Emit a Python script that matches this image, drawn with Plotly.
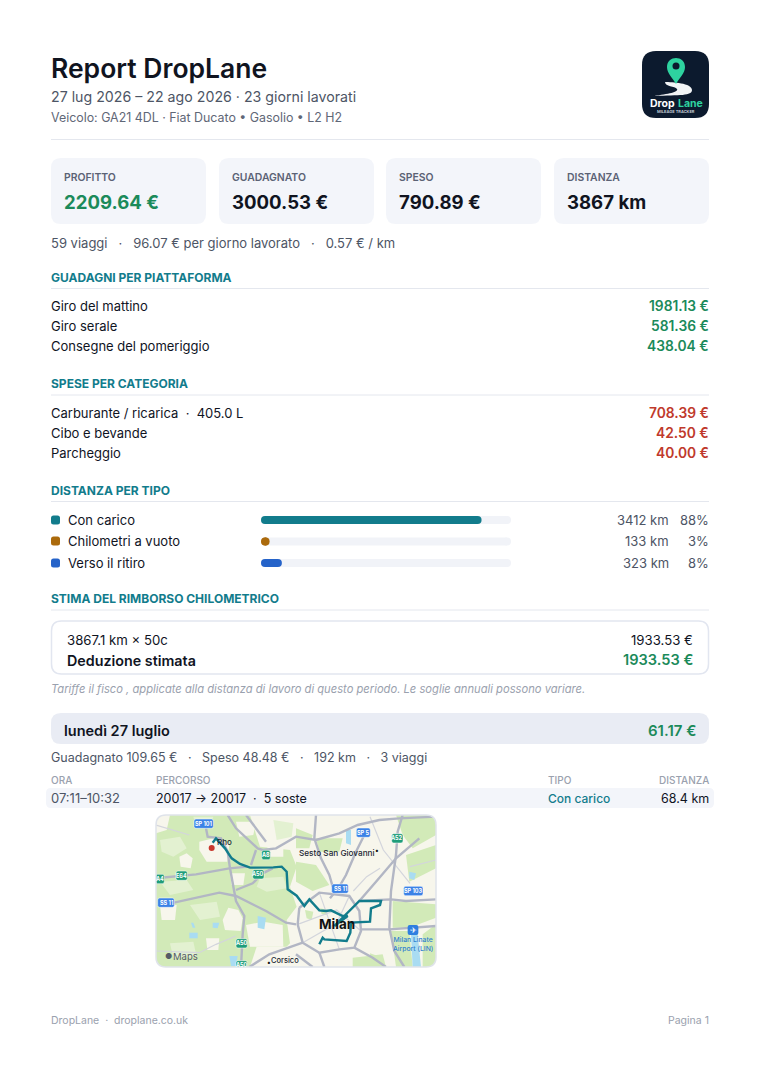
# Report DropLane page drawn with plotly
import plotly.graph_objects as go

# Report values
kpi_labels = ["PROFITTO", "GUADAGNATO", "SPESO", "DISTANZA"]
kpi_values = ["2209.64 €", "3000.53 €", "790.89 €", "3867 km"]

platforms = ["Giro del mattino", "Giro serale", "Consegne del pomeriggio"]
platform_values = ["1981.13 €", "581.36 €", "438.04 €"]

expenses = ["Carburante / ricarica  ·  405.0 L", "Cibo e bevande", "Parcheggio"]
expense_values = ["708.39 €", "42.50 €", "40.00 €"]

distance_types = ["Con carico", "Chilometri a vuoto", "Verso il ritiro"]
distance_km = [3412, 133, 323]
distance_pct = ["88%", "3%", "8%"]
distance_total = 3867
distance_colors = ["#127c8c", "#ab6a0c", "#2563c9"]

# Map geometry
route_x = [188, 198, 225, 245, 270, 300, 370, 395, 410, 413, 440, 463, 478, 508, 528, 543, 578, 593, 553,
           628, 693, 690, 663, 660, 603, 601, 590, 523, 518, 508]
route_y = [98, 85, 115, 145, 162, 173, 172, 170, 185, 238, 257, 288, 268, 301, 303, 301, 318, 318, 348,
           273, 273, 285, 295, 335, 338, 368, 393, 388, 383, 403]

major_roads = [
    ([168, 173, 213, 233, 240, 253, 258, 283, 278, 273], [55, 80, 85, 125, 175, 240, 273, 318, 373, 471]),
    ([233, 258, 323, 338, 378, 438, 498, 568, 623, 688, 748, 858], [15, 55, 115, 120, 115, 80, 90, 70, 45, 30, 25, 20]),
    ([288, 348], [15, 95]),
    ([318, 303], [120, 165]),
    ([18, 78, 138, 238, 293], [205, 200, 193, 175, 170]),
    ([368, 338, 308, 258], [175, 190, 220, 240]),
    ([48, 118, 208, 258, 348, 408, 438], [283, 268, 248, 258, 303, 338, 343]),
    ([643, 618, 588, 568, 540], [75, 125, 195, 230, 265]),
    ([498, 493, 513, 538, 548], [15, 85, 145, 195, 230]),
    ([758, 743, 738, 723, 718, 733, 763], [15, 65, 135, 243, 353, 423, 471]),
    ([808, 738, 678, 653, 628], [85, 145, 215, 243, 273]),
    ([628, 723, 768, 858], [273, 268, 273, 268]),
    ([633, 718, 858], [358, 358, 348]),
    ([448, 443, 458, 508, 568, 613, 633, 628, 598, 508, 448], [293, 343, 398, 428, 418, 413, 363, 303, 258, 248, 293]),
    ([508, 523], [428, 471]),
    ([613, 668, 708], [413, 443, 471]),
    ([458, 358, 298], [398, 433, 471]),
    ([438, 488], [433, 471]),
]
minor_roads = [
    ([18, 148, 198, 258], [423, 428, 403, 378]),
    ([18, 118], [45, 75]),
    ([443, 560, 633], [343, 300, 363]),
    ([508, 540, 568], [248, 340, 418]),
    ([598, 560, 458], [258, 340, 398]),
    ([660, 700, 780], [20, 120, 220]),
    ([610, 650, 690], [243, 200, 175]),
    ([780, 858], [170, 150]),
]
greens = [
    ([18, 300, 330, 420, 440, 420, 440, 410, 420, 350, 18],
     [15, 15, 110, 120, 170, 230, 290, 330, 400, 471, 471]),
    ([498, 578, 568, 508], [85, 85, 125, 125]),
    ([438, 488, 478, 438], [55, 75, 115, 115]),
    ([738, 858, 858, 788, 758], [15, 15, 75, 115, 75]),
    ([768, 858, 858, 778], [135, 105, 175, 215]),
    ([438, 498, 538, 488, 438], [155, 165, 225, 243, 215]),
    ([728, 858, 858, 778, 728], [273, 283, 323, 353, 353]),
    ([723, 778, 788, 738], [363, 363, 471, 471]),
    ([608, 698, 708, 608], [443, 433, 471, 471]),
    ([818, 858, 858, 818], [373, 343, 471, 471]),
    ([465, 490, 485, 470], [300, 305, 330, 325]),
    ([510, 535, 530, 515], [295, 300, 315, 312]),
    ([660, 690, 690, 662], [430, 440, 455, 450]),
]
pale_greens = [
    ([30, 90, 110, 70, 35], [90, 80, 115, 140, 125]),
    ([130, 190, 180, 140], [20, 20, 50, 55]),
    ([30, 110, 130, 60], [215, 210, 240, 255]),
    ([120, 200, 210, 150], [285, 275, 320, 330]),
    ([60, 130, 140, 70], [400, 395, 440, 445]),
    ([330, 400, 410, 350, 320], [205, 200, 235, 245, 230]),
    ([370, 430, 425, 380], [30, 40, 80, 90]),
]
urban_patches = [
    ([148, 190, 238, 232, 170, 148], [95, 85, 100, 155, 155, 120]),
    ([18, 60, 50, 18], [15, 15, 60, 70]),
    ([88, 110, 128, 122, 92], [140, 130, 145, 175, 170]),
    ([258, 318, 310, 268], [35, 35, 75, 80]),
    ([350, 400, 400, 358], [100, 95, 140, 140]),
    ([235, 265, 278, 272, 225, 218], [293, 300, 325, 363, 360, 330]),
    ([288, 340, 398, 400, 300], [345, 335, 345, 410, 410]),
    ([168, 208, 205, 172], [385, 385, 420, 420]),
    ([320, 440, 440, 300], [410, 410, 471, 471]),
    ([30, 80, 75, 35], [285, 285, 330, 330]),
    ([240, 285, 280, 245], [190, 190, 225, 225]),
]
waters = [
    ([118, 143, 143, 118], [368, 368, 385, 385]),
    ([188, 208, 203, 188], [338, 338, 355, 353]),
    ([123, 130, 136, 128], [338, 338, 353, 353]),
    ([323, 348, 343, 323], [318, 323, 358, 353]),
    ([238, 263, 258, 243], [438, 438, 468, 468]),
    ([783, 803, 813, 788], [373, 373, 471, 471]),
    ([588, 603, 603, 588], [60, 60, 105, 100]),
    ([778, 798, 793, 778], [185, 190, 210, 205]),
]
shields = [
    ("SP 101", 161, 41, "#3b82e6"), ("SP 5", 640, 68, "#3b82e6"), ("A52", 742, 85, "#1f9d7a"),
    ("A8", 348, 135, "#1f9d7a"), ("A50", 325, 193, "#1f9d7a"), ("A4", 30, 207, "#1f9d7a"),
    ("E64", 95, 197, "#1f9d7a"), ("SS 11", 48, 278, "#3b82e6"), ("SS 11", 570, 236, "#3b82e6"),
    ("SP 103", 790, 243, "#3b82e6"), ("A50", 275, 400, "#1f9d7a"), ("A50", 275, 466, "#1f9d7a"),
]

FONT = "Inter, Liberation Sans, sans-serif"
INK = "#10141f"
GREY = "#4d5565"
PALE = "#9aa1ae"
TEAL = "#127c8c"
GREEN = "#1b8a5a"
RED = "#c0392b"
RULE = "#e4e7ee"
CARD = "#f3f5fa"

# The page keeps an 8 px body margin, so the figure is 16 px smaller and the axes stay in page pixels
PAGE_W, PAGE_H, BODY = 760, 1075, 8

annotations = []
shapes = []


def label(x, y, text, size, color=INK, weight=400, anchor="left", style="normal"):
    annotations.append(dict(x=x, y=y, xref="x", yref="y", text=text, showarrow=False,
                            xanchor=anchor, yanchor="middle", borderpad=0, borderwidth=0,
                            font=dict(family=FONT, size=size, color=color, weight=weight, style=style)))


def round_rect(x0, y0, x1, y1, r):
    return (f"M {x0+r},{y0} L {x1-r},{y0} Q {x1},{y0} {x1},{y0+r} L {x1},{y1-r} Q {x1},{y1} {x1-r},{y1} "
            f"L {x0+r},{y1} Q {x0},{y1} {x0},{y1-r} L {x0},{y0+r} Q {x0},{y0} {x0+r},{y0} Z")


def box(x0, y0, x1, y1, r, fill, line=None, layer="below"):
    shapes.append(dict(type="path", path=round_rect(x0, y0, x1, y1, r), xref="x", yref="y", fillcolor=fill,
                       line=dict(color=line or fill, width=1.5 if line else 0), layer=layer))


def rule(y):
    shapes.append(dict(type="line", x0=51, x1=709, y0=y, y1=y, xref="x", yref="y",
                       line=dict(color=RULE, width=1), layer="below"))


def x_domain(left, right):
    return [(left - BODY) / (PAGE_W - 2 * BODY), (right - BODY) / (PAGE_W - 2 * BODY)]


def y_domain(top, bottom):
    height = PAGE_H - 2 * BODY
    return [1 - (bottom - BODY) / height, 1 - (top - BODY) / height]


# Header
label(51, 68, "Report DropLane", 26.5, INK, 600)
label(51, 97, "27 lug 2026 – 22 ago 2026 · 23 giorni lavorati", 14.2, GREY)
label(51, 117, "Veicolo: GA21 4DL · Fiat Ducato • Gasolio • L2 H2", 12.4, "#5f6777")
rule(139.5)

# App icon
box(642, 51, 709, 118, 14, "#0c1a2e", layer="above")
shapes.append(dict(type="path", xref="x", yref="y", layer="above", fillcolor="#f2f4f6", line=dict(width=0),
                   path="M 654,96 C 668,94 679,92 677,89 C 675,86 665,87 665,82 C 672,82 692,83 692,90 "
                        "C 692,96 680,95 654,96 Z"))
shapes.append(dict(type="path", xref="x", yref="y", layer="above", fillcolor="#2ed3a0", line=dict(width=0),
                   path="M 676,84 C 672,77 667,73 667,67 C 667,55 685,55 685,67 C 685,73 680,77 676,84 Z"))
shapes.append(dict(type="circle", xref="x", yref="y", layer="above", x0=672.5, x1=679.5, y0=62.5, y1=69.5,
                   fillcolor="#0c1a2e", line=dict(width=0)))
label(675, 103, "Drop", 10.5, "#ffffff", 700, "right")
label(678, 103, "Lane", 10.5, "#2ed3a0", 700)
annotations.append(dict(x=675.5, y=111, xref="x", yref="y", text="MILEAGE TRACKER", showarrow=False,
                        font=dict(family=FONT, size=4, color="#cdd5df", weight=600)))

# KPI cards
card_left = [51, 219, 386, 554]
for left, name, value in zip(card_left, kpi_labels, kpi_values):
    box(left, 158, left + 155, 224, 10, CARD)
    label(left + 13, 177, name, 10.4, "#5b6275", 600)
    label(left + 13, 202, value, 18.6, GREEN if name == "PROFITTO" else INK, 700)

label(51, 243, "59 viaggi\u00a0\u00a0\u00a0·\u00a0\u00a0\u00a096.07 € per giorno lavorato"
               "\u00a0\u00a0\u00a0·\u00a0\u00a0\u00a00.57 € / km", 13, GREY)

# Earnings and expenses
label(51, 277.5, "GUADAGNI PER PIATTAFORMA", 12, TEAL, 700)
rule(288.5)
for y, name, value in zip([306, 326, 346], platforms, platform_values):
    label(51, y, name, 13)
    label(709, y, value, 13.8, GREEN, 600, "right")

label(51, 383.5, "SPESE PER CATEGORIA", 12, TEAL, 700)
rule(395)
for y, name, value in zip([413, 433, 453], expenses, expense_values):
    label(51, y, name, 13)
    label(709, y, value, 13.8, RED, 600, "right")

# Distance by type, rows of the bar chart below
label(51, 490.5, "DISTANZA PER TIPO", 12, TEAL, 700)
rule(501.5)
for y, name, km, pct, color in zip([520, 541, 563], distance_types, distance_km, distance_pct, distance_colors):
    box(51, y - 4.5, 60, y + 4.5, 2.5, color)
    label(68, y, name, 13)
    label(669, y, f"{km} km", 13, GREY, 400, "right")
    label(709, y, pct, 13, GREY, 400, "right")

# Mileage estimate
label(51, 598.5, "STIMA DEL RIMBORSO CHILOMETRICO", 12, TEAL, 700)
rule(610)
box(51.5, 621, 708.5, 674, 10, "#ffffff", "#e2e6f0")
label(67, 640, "3867.1 km × 50c", 13.2)
label(693, 640, "1933.53 €", 13.2, INK, 400, "right")
label(67, 660, "Deduzione stimata", 14.3, INK, 600)
label(693, 660, "1933.53 €", 14.6, GREEN, 600, "right")
label(51, 689, "Tariffe il fisco , applicate alla distanza di lavoro di questo periodo. "
               "Le soglie annuali possono variare.", 11.2, PALE, 400, "left", "italic")

# Day block
box(51, 713, 709, 744, 10, "#e9ecf4")
label(64, 730, "lunedì 27 luglio", 14.5, INK, 600)
label(696, 730, "61.17 €", 15, GREEN, 600, "right")
label(51, 757, "Guadagnato 109.65 €\u00a0\u00a0\u00a0·\u00a0\u00a0\u00a0Speso 48.48 €\u00a0\u00a0\u00a0·\u00a0\u00a0\u00a0192 km"
               "\u00a0\u00a0\u00a0·\u00a0\u00a0\u00a03 viaggi", 12.5, GREY)
label(51, 780, "ORA", 10, PALE, 500)
label(156, 780, "PERCORSO", 10, PALE, 500)
label(548, 780, "TIPO", 10, PALE, 500)
label(709, 780, "DISTANZA", 10, PALE, 500, "right")
box(46, 788, 714, 808, 5, CARD)
label(51, 798, "07:11–10:32", 13, GREY)
label(156, 798, "20017 → 20017\u00a0\u00a0·\u00a0\u00a05 soste", 12.5)
label(548, 798, "Con carico", 12, TEAL, 500)
label(709, 798, "68.4 km", 12.5, INK, 400, "right")

# Footer
label(51, 1020, "DropLane\u00a0\u00a0·\u00a0\u00a0droplane.co.uk", 10.5, PALE)
label(709, 1020, "Pagina 1", 10.5, PALE, 400, "right")

fig = go.Figure()

# Distance bars: thick lines with round end markers, 4 px caps kept inside the value
cap = 4 * distance_total / 250
for name, km, color in zip(distance_types, distance_km, distance_colors):
    fig.add_trace(go.Scatter(x=[cap, distance_total - cap], y=[name, name], xaxis="x3", yaxis="y3",
                             mode="lines+markers", line=dict(color="#f1f3f8", width=8),
                             marker=dict(color="#f1f3f8", size=8), hoverinfo="skip"))
    fig.add_trace(go.Scatter(x=[cap, km - cap], y=[name, name], xaxis="x3", yaxis="y3",
                             mode="lines+markers", line=dict(color=color, width=8),
                             marker=dict(color=color, size=8), name=name))


# Map picture: land, water, roads, route
def map_area(patches, color):
    for xs, ys in patches:
        fig.add_trace(go.Scatter(x=xs, y=ys, xaxis="x2", yaxis="y2", mode="lines", fill="toself",
                                 fillcolor=color, line=dict(width=0), hoverinfo="skip"))


def map_lines(lines, color, width):
    for xs, ys in lines:
        fig.add_trace(go.Scatter(x=xs, y=ys, xaxis="x2", yaxis="y2", mode="lines",
                                 line=dict(color=color, width=width), hoverinfo="skip"))


box(156, 815, 436, 967, 10, "#f7f6ec")
map_area(greens, "#d2eab8")
map_area(pale_greens, "#e3f1d1")
map_area(urban_patches, "#f7f6ec")
map_area(waters, "#a9dcf2")
map_lines(minor_roads, "#d3d5dc", 1.2)
map_lines(major_roads, "#b2b6c4", 2.4)
fig.add_trace(go.Scatter(x=[185], y=[114], xaxis="x2", yaxis="y2", mode="markers",
                         marker=dict(color="#c8372d", size=6), hoverinfo="skip"))
fig.add_trace(go.Scatter(x=route_x, y=route_y, xaxis="x2", yaxis="y2", mode="lines",
                         line=dict(color=TEAL, width=2.4), hoverinfo="skip"))


def map_text(x, y, text, size, color="#222733", weight=500, bg=None):
    annotations.append(dict(x=x, y=y, xref="x2", yref="y2", text=text, showarrow=False, bgcolor=bg,
                            borderpad=1, font=dict(family=FONT, size=size, color=color, weight=weight)))


for name, x, y, color in shields:
    half = 5 + 4 * len(name)
    shapes.append(dict(type="path", xref="x2", yref="y2", layer="above", fillcolor=color,
                       line=dict(color="#ffffff", width=0.5),
                       path=round_rect(x - half, y - 14, x + half, y + 14, 6)))
    map_text(x, y, name, 5.5, "#ffffff", 700)
map_text(222, 95, "Rho", 8)
map_text(560, 130, "Sesto San Giovanni", 8.2)
map_text(682, 120, "•", 7, "#111111")
map_text(560, 343, "Milan", 13.5, "#111111", 700)
map_text(405, 450, "Corsico", 7.5)
map_text(357, 458, "•", 7, "#111111")
map_text(788, 401, "Milan Linate<br>Airport (LIN)", 6.8, "#2f7fd0", 500)
shapes.append(dict(type="path", xref="x2", yref="y2", layer="above", fillcolor="#2f7fe0", line=dict(width=0),
                   path=round_rect(773, 345, 805, 375, 6)))
map_text(789, 360, "✈", 8, "#ffffff")
map_text(56, 438, "●", 8, "#555b66")
map_text(105, 438, "Maps", 9.5, "#555b66", 400)

# Rounded map corners with a thin frame on top
for cx, cy, sx, sy in [(156, 815, 1, 1), (436, 815, -1, 1), (156, 967, 1, -1), (436, 967, -1, -1)]:
    shapes.append(dict(type="path", xref="x", yref="y", layer="above", fillcolor="#ffffff", line=dict(width=0),
                       path=f"M {cx},{cy} L {cx+sx*10},{cy} Q {cx},{cy} {cx},{cy+sy*10} Z"))
box(156, 815, 436, 967, 10, "rgba(0,0,0,0)", "#dfe3ea", "above")

hidden = dict(visible=False, fixedrange=True)
fig.update_layout(
    width=PAGE_W - 2 * BODY, height=PAGE_H - 2 * BODY, margin=dict(l=0, r=0, t=0, b=0), showlegend=False,
    paper_bgcolor="#ffffff", plot_bgcolor="rgba(0,0,0,0)",
    xaxis=dict(range=[BODY, PAGE_W - BODY], domain=[0, 1], **hidden),
    yaxis=dict(range=[PAGE_H - BODY, BODY], domain=[0, 1], **hidden),
    xaxis2=dict(range=[18, 858], domain=x_domain(156, 436), anchor="y2", **hidden),
    yaxis2=dict(range=[471, 15], domain=y_domain(815, 967), anchor="x2", **hidden),
    xaxis3=dict(range=[0, distance_total], domain=x_domain(261, 511), anchor="y3", **hidden),
    yaxis3=dict(range=[2.5, -0.5], domain=y_domain(509.25, 573.75), anchor="x3",
                type="category", categoryorder="array", categoryarray=distance_types, **hidden),
    shapes=shapes, annotations=annotations,
)

fig.write_html("out.html")
